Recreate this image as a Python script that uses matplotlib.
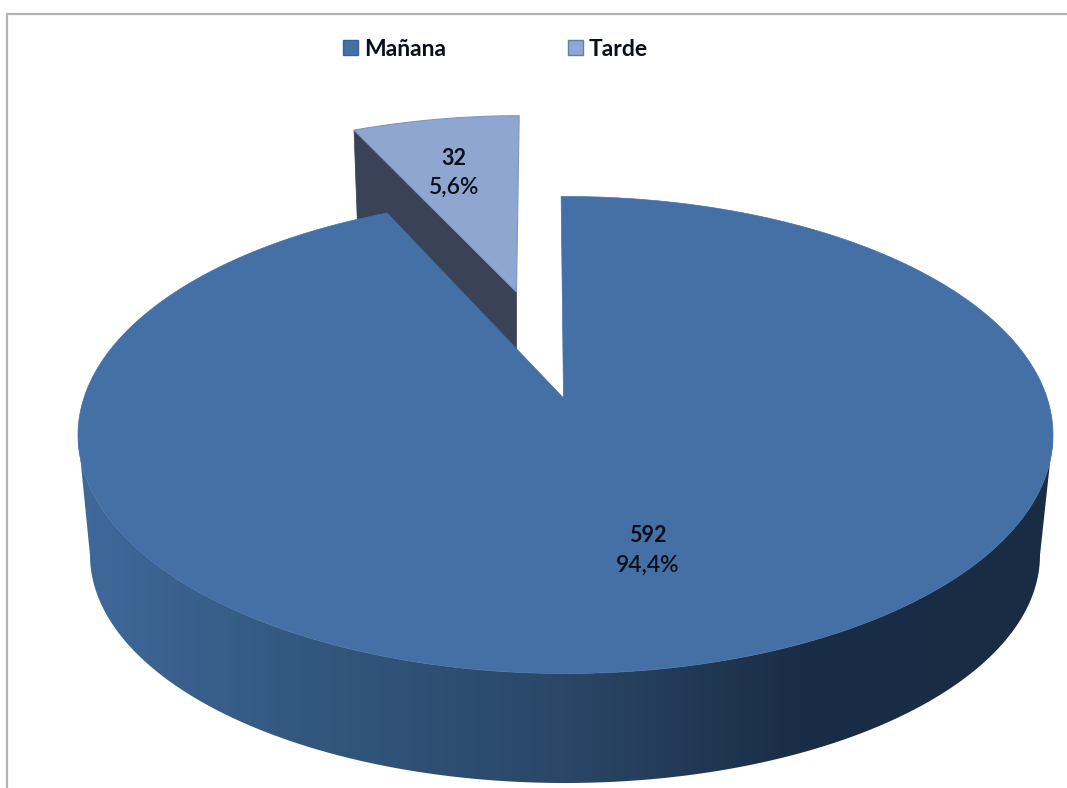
import numpy as np
import matplotlib
matplotlib.use("Agg")
import matplotlib.pyplot as plt
from matplotlib.patches import Polygon, Patch
from matplotlib.colors import LinearSegmentedColormap

# ---- data ----
categories = ["Mañana", "Tarde"]
counts = [592, 32]
percents = [94.4, 5.6]

# ---- style ----
TOP_COLORS = ["#4570a5", "#8fa7d0"]
EDGE_COLORS = ["#3a6090", "#5f7ea8"]
TARDE_SIDE = "#3a4258"
FRAME = "#b2b2b2"
SIDE_STOPS = [(0.0, "#40699b"), (0.23, "#33587f"), (0.5, "#2a4767"),
              (0.74, "#1a2d46"), (1.0, "#192c44")]
CX, CY, RX, RY = 565.5, 435.0, 487.5, 238.5
BX, BY, BRX, BRY = 565.0, 555.0, 475.0, 228.0
D = 0.155          # perspective: where the disc centre lands inside the ellipse
ANGLE_STRETCH = 1.24  # visual widening of the small slice's angle by the 3D view
START_TILT = -0.6

fig = plt.figure(figsize=(10.67, 7.88), dpi=100, facecolor="white")
ax = fig.add_axes([0, 0, 1, 1])
ax.set_axis_off()


def project(theta_deg, r=1.0):
    """Clockwise angle from 12 o'clock on the unit disc -> screen pixels."""
    t = np.radians(np.asarray(theta_deg, dtype=float))
    x, y = r * np.sin(t), r * np.cos(t)
    den = 1 + D * y
    xp = x * np.sqrt(1 - D ** 2) / den
    yp = (y + D) / den
    return CX + RX * xp, CY - RY * yp


gap = percents[1] * 3.6 * ANGLE_STRETCH
apex = np.array(project(0.0, 0.0), dtype=float) + np.array([-2.0, 0.0])

# side wall with horizontal shading
phi = np.radians(np.linspace(0, 180, 200))
top_low = np.c_[CX + RX * np.cos(phi), CY + RY * np.sin(phi)]
bot_low = np.c_[BX + BRX * np.cos(phi), BY + BRY * np.sin(phi)]
side = np.vstack([top_low, bot_low[::-1]])
cmap = LinearSegmentedColormap.from_list("side", SIDE_STOPS)
grad = np.linspace(0, 1, 512)[None, :]
im = ax.imshow(grad, cmap=cmap, extent=(BX - BRX - 15, BX + BRX + 15, 790, 400),
               aspect="auto", zorder=1)
clip = Polygon(side, closed=True, transform=ax.transData, fc="none", ec="none")
ax.add_patch(clip)
im.set_clip_path(clip)

# main slice top surface
th = np.linspace(START_TILT, 360 - gap, 500)
mx, my = project(th)
main_pts = np.vstack([apex, np.c_[mx, my]])
main_poly = Polygon(main_pts, closed=True, fc=TOP_COLORS[0], ec=TOP_COLORS[0], lw=0.5, zorder=4)
ax.add_patch(main_poly)

# exploded small slice
th2 = np.linspace(360 - gap, 360 + START_TILT, 60)
sx, sy = project(th2)
dx, dy = sx - apex[0], sy - apex[1]
T_APEX = np.array([516.5, 292.0])
tx = T_APEX[0] + 0.9465 * dx - 0.0244 * dy
ty = T_APEX[1] + 0.875 * dy
tarde_pts = np.vstack([T_APEX, np.c_[tx, ty]])
wall = Polygon([(tx[0], ty[0]), T_APEX, T_APEX + [0, 58], (tx[0] + 4, ty[0] + 110)],
               closed=True, fc=TARDE_SIDE, ec=TARDE_SIDE, lw=0.5, zorder=2)
ax.add_patch(wall)
tarde_poly = Polygon(tarde_pts, closed=True, fc=TOP_COLORS[1], ec="#7f97bf", lw=0.8, zorder=3)
ax.add_patch(tarde_poly)

# frame
ax.plot([7, 7, 1067], [788, 14, 14], color=FRAME, lw=1.6, zorder=5, solid_joinstyle="miter")

# data labels
FONT = ["Lato", "DejaVu Sans"]
LABEL_POS = [(648, 536, 565), (454, 158, 187)]
for c, p, (x, y1, y2) in zip(counts, percents, LABEL_POS):
    ax.text(x, y1, str(c), ha="center", va="center", fontsize=15.5, fontweight="bold",
            family=FONT, color="#0b0f1a", zorder=6)
    ax.text(x, y2, f"{p:.1f}%".replace(".", ","), ha="center", va="center", fontsize=16.5,
            fontweight="semibold", family=FONT, color="#0b0f1a", zorder=6)

# legend
handles = [Patch(facecolor=f, edgecolor=e, linewidth=1.0) for f, e in zip(TOP_COLORS, EDGE_COLORS)]
leg = ax.legend(handles, categories, ncol=2, frameon=False, loc="center left",
                bbox_to_anchor=(343 / 1067, 1 - 49 / 788),
                prop={"family": FONT, "weight": "bold", "size": 16.5},
                handlelength=0.65, handleheight=0.65, handletextpad=0.28,
                columnspacing=5.3, borderpad=0, borderaxespad=0, labelcolor="#0b0f1a")

ax.set_xlim(0, 1067)
ax.set_ylim(788, 0)
fig.savefig("out.png", dpi=100, facecolor="white")
